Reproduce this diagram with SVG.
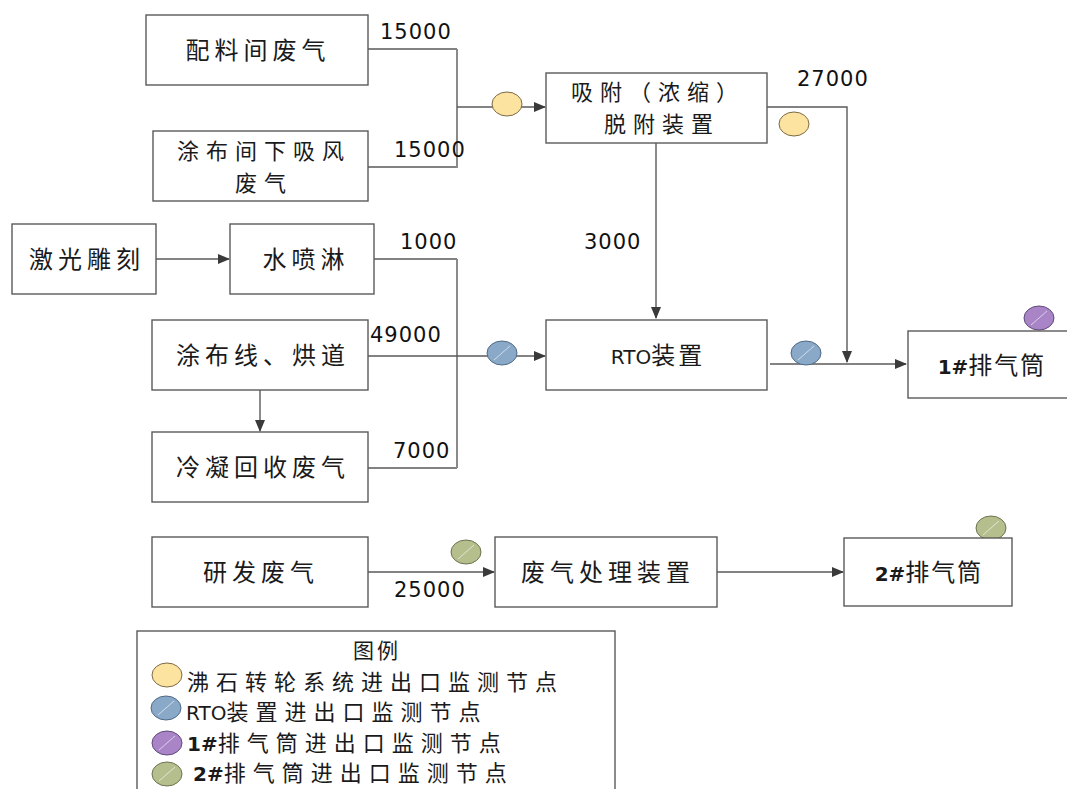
<svg xmlns="http://www.w3.org/2000/svg" width="1067" height="789" viewBox="0 0 1067 789">
<style>
.box{fill:#fff;stroke:#5a5a5a;stroke-width:1.4}
.cn{font-family:"Noto Sans CJK SC","Noto Sans",sans-serif;font-size:24px;fill:#1a1a1a;letter-spacing:5px}
.lg{font-size:22px;letter-spacing:7px}
.num{font-family:"DejaVu Sans","Noto Sans CJK SC",sans-serif;font-size:21px;fill:#111;letter-spacing:1px}
.ln{fill:none;stroke:#5a5a5a;stroke-width:1.4}
.vl{fill:none;stroke:#8a8a8a;stroke-width:2}
.yel{fill:#FCE3A0;stroke:#7a6a45;stroke-width:1}
.blu{fill:#8AA9C9;stroke:#4e6a86;stroke-width:1}
.pur{fill:#A985C8;stroke:#5f4a78;stroke-width:1}
.grn{fill:#B4BF8D;stroke:#6b7350;stroke-width:1}
.st{stroke:#ffffff;stroke-opacity:0.6;stroke-width:1}
.lat{font-family:"DejaVu Sans",sans-serif;font-size:20px;letter-spacing:0}
</style>
<defs>
<marker id="ar" markerWidth="12" markerHeight="10" refX="11" refY="5" orient="auto" markerUnits="userSpaceOnUse">
<path d="M0,0 L12,5 L0,10 Z" fill="#3a3a3a"/>
</marker>
</defs>
<rect width="1067" height="789" fill="#fff"/>

<g id="connectors">
<path class="ln" d="M368,49 H457 M368,167 H457"/>
<path class="vl" d="M457,49 V168"/>
<path class="ln" d="M457,107 H545" marker-end="url(#ar)"/>
<path class="ln" d="M656,143 V318" marker-end="url(#ar)"/>
<path class="ln" d="M767,107 H847 V362" marker-end="url(#ar)"/>
<path class="ln" d="M770,364 H906" marker-end="url(#ar)"/>
<path class="ln" d="M156,259 H229" marker-end="url(#ar)"/>
<path class="ln" d="M260,390 V431" marker-end="url(#ar)"/>
<path class="ln" d="M374,259 H457 M368,468 H457"/>
<path class="vl" d="M457,259 V468"/>
<path class="ln" d="M368,356 H545" marker-end="url(#ar)"/>
<path class="ln" d="M368,572 H494" marker-end="url(#ar)"/>
<path class="ln" d="M717,572 H843" marker-end="url(#ar)"/>
<text class="num" x="380" y="39">15000</text>
<text class="num" x="394" y="157">15000</text>
<text class="num" x="797" y="86">27000</text>
<text class="num" x="584" y="249">3000</text>
<text class="num" x="400" y="249">1000</text>
<text class="num" x="370" y="342">49000</text>
<text class="num" x="393" y="458">7000</text>
<text class="num" x="394" y="597">25000</text>
</g>

<g id="markers">
<ellipse class="yel" cx="507" cy="104" rx="15" ry="12"/>
<ellipse class="yel" cx="794" cy="124" rx="15" ry="12"/>
<ellipse class="blu" cx="502" cy="353" rx="15" ry="12"/><line class="st" x1="494" y1="360" x2="510" y2="346"/>
<ellipse class="blu" cx="806" cy="353" rx="15" ry="12"/><line class="st" x1="798" y1="360" x2="814" y2="346"/>
<ellipse class="pur" cx="1039" cy="318" rx="15" ry="12"/><line class="st" x1="1031" y1="325" x2="1047" y2="311"/>
<ellipse class="grn" cx="466" cy="552" rx="15" ry="12"/><line class="st" x1="458" y1="559" x2="474" y2="545"/>
<ellipse class="grn" cx="991" cy="528" rx="15" ry="12"/><line class="st" x1="983" y1="535" x2="999" y2="521"/>
</g>

<g id="n1"><rect class="box" x="146" y="15" width="222" height="70"/><text class="cn" x="258" y="59" text-anchor="middle">配料间废气</text></g>
<g id="n2"><rect class="box" x="153" y="131" width="215" height="70"/><text class="cn lg" x="264" y="159" text-anchor="middle">涂布间下吸风</text><text class="cn lg" x="264" y="191" text-anchor="middle">废气</text></g>
<g id="n3"><rect class="box" x="546" y="73" width="221" height="70"/><text class="cn lg" x="658" y="100" text-anchor="middle">吸附（浓缩）</text><text class="cn lg" x="662" y="132" text-anchor="middle">脱附装置</text></g>
<g id="n4"><rect class="box" x="12" y="224" width="144" height="70"/><text class="cn" x="87" y="268" text-anchor="middle">激光雕刻</text></g>
<g id="n5"><rect class="box" x="230" y="224" width="144" height="70"/><text class="cn" x="306" y="268" text-anchor="middle">水喷淋</text></g>
<g id="n6"><rect class="box" x="152" y="320" width="216" height="70"/><text class="cn" x="263" y="364" text-anchor="middle">涂布线、烘道</text></g>
<g id="n7"><rect class="box" x="152" y="432" width="216" height="70"/><text class="cn" x="263" y="476" text-anchor="middle">冷凝回收废气</text></g>
<g id="n8"><rect class="box" x="546" y="320" width="221" height="70"/><text class="cn" x="658" y="364" text-anchor="middle" style="letter-spacing:3px"><tspan class="lat">RTO</tspan>装置</text></g>
<g id="n9"><rect class="box" x="908" y="331" width="165" height="67"/><text class="cn" x="992" y="374" text-anchor="middle" style="letter-spacing:2px"><tspan class="lat" font-weight="bold">1#</tspan>排气筒</text></g>
<g id="n10"><rect class="box" x="152" y="537" width="216" height="70"/><text class="cn" x="261" y="581" text-anchor="middle">研发废气</text></g>
<g id="n11"><rect class="box" x="495" y="537" width="222" height="70"/><text class="cn" x="608" y="581" text-anchor="middle">废气处理装置</text></g>
<g id="n12"><rect class="box" x="844" y="538" width="168" height="68"/><text class="cn" x="929" y="581" text-anchor="middle" style="letter-spacing:2px"><tspan class="lat" font-weight="bold">2#</tspan>排气筒</text></g>

<g id="legend">
<rect class="box" x="137" y="631" width="478" height="170"/>
<text class="cn" x="377" y="658" text-anchor="middle" style="letter-spacing:3px;font-size:21px">图例</text>
<ellipse class="yel" cx="167" cy="675" rx="15" ry="12"/>
<text class="cn lg" x="187" y="690">沸石转轮系统进出口监测节点</text>
<ellipse class="blu" cx="166" cy="708" rx="15" ry="12"/><line class="st" x1="158" y1="715" x2="174" y2="701"/>
<text class="cn lg" x="186" y="720"><tspan class="lat" font-size="19">RTO</tspan>装置进出口监测节点</text>
<ellipse class="pur" cx="167" cy="743" rx="15" ry="12"/><line class="st" x1="159" y1="750" x2="175" y2="736"/>
<text class="cn lg" x="187" y="751"><tspan class="lat" font-size="19" font-weight="bold">1#</tspan>排气筒进出口监测节点</text>
<ellipse class="grn" cx="167" cy="774" rx="15" ry="12"/><line class="st" x1="159" y1="781" x2="175" y2="767"/>
<text class="cn lg" x="193" y="781"><tspan class="lat" font-size="19" font-weight="bold">2#</tspan>排气筒进出口监测节点</text>
</g>
</svg>
